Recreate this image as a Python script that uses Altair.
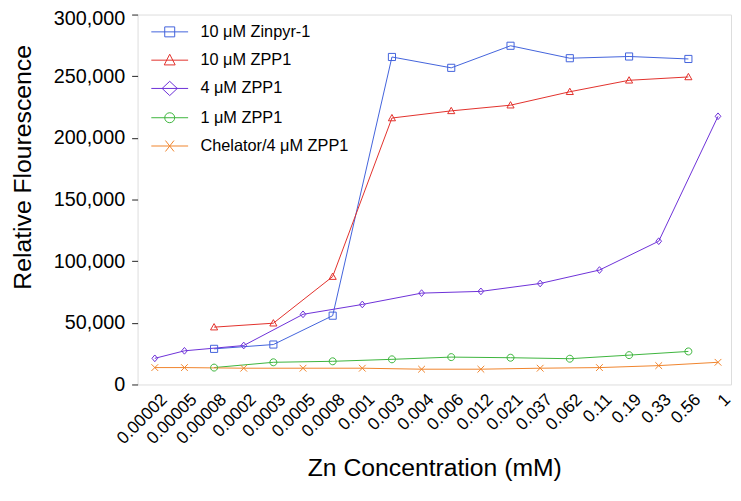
import altair as alt
import pandas as pd

# Category axis (Zn concentration, mM)
conc = ["0.00002", "0.00005", "0.00008", "0.0002", "0.0003", "0.0005", "0.0008",
        "0.001", "0.003", "0.004", "0.006", "0.012", "0.021", "0.037", "0.062",
        "0.11", "0.19", "0.33", "0.56", "1"]

# Concentrations measured for each group of series
conc_a = ["0.00008", "0.0003", "0.0008", "0.003", "0.006", "0.021", "0.062", "0.19", "0.56"]
conc_b = ["0.00002", "0.00005", "0.0002", "0.0005", "0.001", "0.004", "0.012", "0.037",
          "0.11", "0.33", "1"]

series_names = ["10 μM Zinpyr-1", "10 μM ZPP1", "4 μM ZPP1", "1 μM ZPP1", "Chelator/4 μM ZPP1"]

zinpyr1_10uM = [28900, 32400, 55800, 265600, 256800, 274700, 264600, 266000, 264000]
zpp1_10uM = [46500, 49700, 87500, 216100, 221900, 226500, 237400, 246700, 249400]
zpp1_4uM = [21200, 27300, 31600, 56900, 64900, 74100, 75500, 81900, 92800, 116200, 217500]
zpp1_1uM = [13700, 18000, 18800, 20400, 22200, 21700, 20900, 23800, 26800]
chelator_4uM = [13700, 13700, 13200, 13200, 13200, 12400, 12400, 13200, 13700, 15300, 18000]

y_ticks = [0, 50000, 100000, 150000, 200000, 250000, 300000]

colors = ["#4262dc", "#e2302a", "#6c30d8", "#3cb43c", "#f0842c"]

marker_paths = [
    "M-0.9,-0.9H0.9V0.9H-0.9Z",
    "M0,-0.9L0.9,0.7H-0.9Z",
    "M0,-0.85L0.72,0L0,0.85L-0.72,0Z",
    "M0.88,0A0.88,0.88 0 1,1 -0.88,0A0.88,0.88 0 1,1 0.88,0Z",
    "M-0.85,-0.85L0.85,0.85M-0.85,0.85L0.85,-0.85",
]

legend_line = "M-1.55,0H1.55"
legend_paths = [
    legend_line + "M-0.42,-0.42H0.42V0.42H-0.42Z",
    legend_line + "M0,-0.5L0.46,0.4H-0.46Z",
    legend_line + "M0,-0.6L0.64,0L0,0.6L-0.64,0Z",
    legend_line + "M0.42,0A0.42,0.42 0 1,1 -0.42,0A0.42,0.42 0 1,1 0.42,0Z",
    legend_line + "M-0.36,-0.46L0.36,0.46M-0.36,0.46L0.36,-0.46",
]

rows = []
for name, xs, vals in [
    (series_names[0], conc_a, zinpyr1_10uM),
    (series_names[1], conc_a, zpp1_10uM),
    (series_names[2], conc_b, zpp1_4uM),
    (series_names[3], conc_a, zpp1_1uM),
    (series_names[4], conc_b, chelator_4uM),
]:
    for c, v in zip(xs, vals):
        rows.append({"series": name, "conc": c, "idx": conc.index(c), "value": v})
df = pd.DataFrame(rows)

FONT = "Liberation Sans"

x_enc = alt.X(
    "conc:N",
    sort=conc,
    scale=alt.Scale(type="point", domain=conc, padding=0.51, align=0.57),
    axis=alt.Axis(
        title="Zn Concentration (mM)", labelAngle=-45, labelFontSize=17.5, labelFont=FONT,
        labelColor="black", ticks=False, domain=False, grid=False, labelPadding=6,
        labelOffset=3,
        titleFont=FONT, titleFontSize=25, titleFontWeight="normal", titleColor="black",
        titleY=84, titleBaseline="middle",
    ),
)
y_enc = alt.Y(
    "value:Q",
    scale=alt.Scale(domain=[0, 300000], nice=False, zero=True),
    axis=alt.Axis(
        title="Relative Flourescence", values=y_ticks,
        labelExpr="format(datum.value, ',')",
        labelOffset={"condition": {"test": "datum.value >= 300000", "value": 4.5}, "value": 0},
        labelFontSize=20, labelFont=FONT, labelColor="black", tickSize=6,
        tickColor="#222", domain=False, grid=False, labelPadding=7,
        titleFont=FONT, titleFontSize=25, titleFontWeight="normal", titleColor="black",
        titleX=-116, titleY=154, titleAngle=270, titleBaseline="middle", titleAlign="center",
    ),
)

color_scale = alt.Scale(domain=series_names, range=colors)

base = alt.Chart(df).encode(x=x_enc, y=y_enc)

lines = base.mark_line(strokeWidth=1).encode(
    color=alt.Color("series:N", scale=color_scale, legend=None),
    order=alt.Order("idx:Q"),
)

points = base.mark_point(filled=False, strokeWidth=1, size=64, opacity=1).encode(
    color=alt.Color("series:N", scale=color_scale, legend=None),
    shape=alt.Shape("series:N", scale=alt.Scale(domain=series_names, range=marker_paths), legend=None),
)

legend_def = alt.Legend(
    title=None, orient="none", legendX=20, legendY=5, padding=0,
    labelFont=FONT, labelFontSize=16.5, labelColor="black", labelOffset=18.5,
    symbolSize=576, symbolStrokeWidth=1, symbolOpacity=1, rowPadding=7.6,
    symbolFillColor="transparent",
)

legend_layer = base.mark_point(filled=False, strokeWidth=1, size=576).encode(
    color=alt.Color("series:N", scale=color_scale, legend=legend_def),
    shape=alt.Shape("series:N", scale=alt.Scale(domain=series_names, range=legend_paths), legend=legend_def),
).transform_filter("false")

chart = alt.layer(lines, points, legend_layer).resolve_scale(
    color="independent", shape="independent"
).properties(
    width=600, height=374,
    autosize=alt.AutoSizeParams(type="none"),
    padding={"left": 131, "top": 4, "right": 2, "bottom": 100},
).configure_view(stroke="#222", strokeWidth=1).configure(background="white")

chart.save("out.html", embed_options={"renderer": "svg", "actions": False})
